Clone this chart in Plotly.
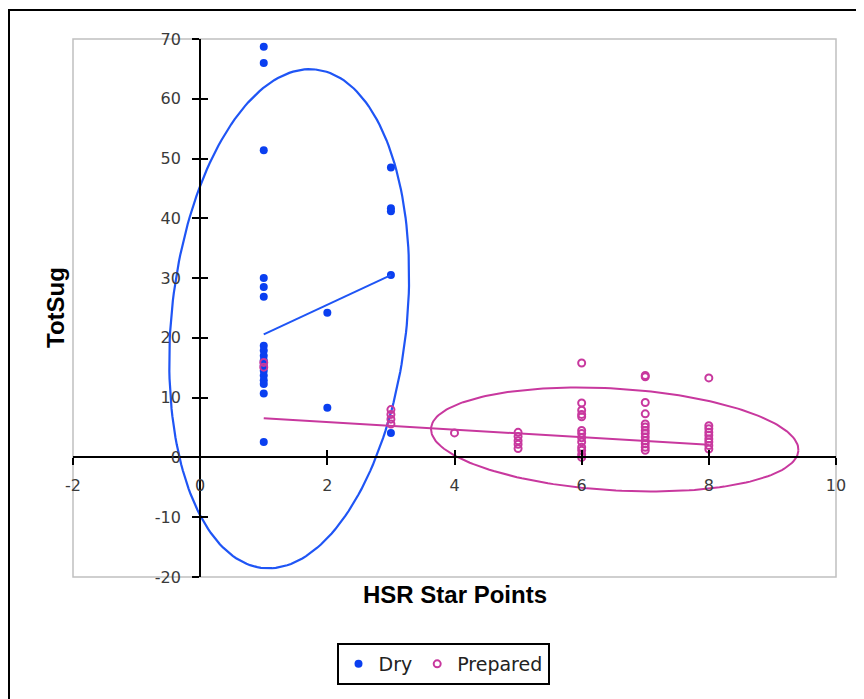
import numpy as np
import plotly.graph_objects as go

# ---------------- data ----------------
dry_x = [1] * 17 + [2] * 2 + [3] * 5
dry_y = [68.7, 66.0, 51.4, 30.0, 28.5, 26.9, 18.7, 17.9, 17.0, 16.2, 15.4, 14.5,
         13.7, 12.9, 12.3, 10.7, 2.6,
         24.2, 8.3,
         48.5, 41.7, 41.2, 30.5, 4.1]

prep_x = [1] * 2 + [3] * 4 + [4] * 1 + [5] * 5 + [6] * 13 + [7] * 13 + [8] * 9
prep_y = [15.9, 15.1,
          8.0, 7.2, 6.4, 5.6,
          4.1,
          4.2, 3.5, 2.8, 2.2, 1.5,
          15.8, 9.1, 7.9, 7.2, 6.8, 4.5, 4.0, 3.3, 2.6, 1.7, 1.2, 0.5, 0.0,
          13.7, 13.5, 9.2, 7.3, 5.6, 5.1, 4.5, 4.0, 3.4, 2.8, 2.3, 1.7, 1.2,
          13.3, 5.3, 4.8, 4.2, 3.7, 3.1, 2.6, 2.0, 1.4]

# linear trendlines (slope, intercept) and their x-extent
dry_trend = (4.95, 15.65)
dry_trend_x = [1, 3]
prep_trend = (-0.637, 7.2)
prep_trend_x = [1, 8]

# hand-drawn ellipses: centre, major-axis vector, minor-axis vector (data units)
blue_ell_center = (1.40, 23.2)
blue_ell_major = (0.415, 41.7)
blue_ell_minor = (1.84, -2.04)
pink_ell_center = (6.52, 3.0)
pink_ell_major = (2.889, -1.87)
pink_ell_minor = (0.049, 8.50)

x_ticks = [-2, 0, 2, 4, 6, 8, 10]
x_tick_labels = ["-2", "0", "2", "4", "6", "8", "10"]
y_ticks = [-20, -10, 0, 10, 20, 30, 40, 50, 60, 70]
y_tick_labels = ["-20", "-10", "0", "10", "20", "30", "40", "50", "60", "70"]
x_range = [-2, 10]
y_range = [-20, 70]

BLUE = "#0a3ff0"
BLUE_LINE = "#1f55f5"
PINK = "#c8389e"


def ellipse(center, major, minor, n=200):
    t = np.linspace(0, 2 * np.pi, n)
    ex = center[0] + np.cos(t) * major[0] + np.sin(t) * minor[0]
    ey = center[1] + np.cos(t) * major[1] + np.sin(t) * minor[1]
    return ex, ey


fig = go.Figure()

bx, by = ellipse(blue_ell_center, blue_ell_major, blue_ell_minor)
fig.add_trace(go.Scatter(x=bx, y=by, mode="lines", line=dict(color=BLUE_LINE, width=2.2),
                         showlegend=False, hoverinfo="skip"))
px_, py_ = ellipse(pink_ell_center, pink_ell_major, pink_ell_minor)
fig.add_trace(go.Scatter(x=px_, y=py_, mode="lines", line=dict(color=PINK, width=2),
                         showlegend=False, hoverinfo="skip"))

fig.add_trace(go.Scatter(x=dry_x, y=dry_y, mode="markers", name="Dry",
                         marker=dict(color=BLUE, size=8, symbol="circle")))
fig.add_trace(go.Scatter(x=prep_x, y=prep_y, mode="markers", name="Prepared",
                         marker=dict(color=PINK, size=7, symbol="circle-open",
                                     line=dict(width=2, color=PINK))))

dtx = np.array(dry_trend_x, dtype=float)
fig.add_trace(go.Scatter(x=dtx, y=dry_trend[0] * dtx + dry_trend[1], mode="lines",
                         line=dict(color=BLUE_LINE, width=2), showlegend=False,
                         hoverinfo="skip"))
ptx = np.array(prep_trend_x, dtype=float)
fig.add_trace(go.Scatter(x=ptx, y=prep_trend[0] * ptx + prep_trend[1], mode="lines",
                         line=dict(color=PINK, width=2), showlegend=False,
                         hoverinfo="skip"))

# dummy trace for overlay axes (inside ticks -> crossing tick marks)
fig.add_trace(go.Scatter(x=[None], y=[None], xaxis="x2", yaxis="y2",
                         showlegend=False, hoverinfo="skip"))

xpos = (0 - y_range[0]) / (y_range[1] - y_range[0])
ypos = (0 - x_range[0]) / (x_range[1] - x_range[0])
tickfont = dict(family="DejaVu Sans", size=16, color="#3a3a3a")

# plot area: page pixels x 73..836, y 39..577 (page has an 8px body offset)
W, H = 856, 691
L, R, T, B = 65, 28, 31, 122
pw = W - L - R
ph = H - T - B

fig.update_layout(
    width=W, height=H,
    margin=dict(l=L, r=R, t=T, b=B),
    paper_bgcolor="white", plot_bgcolor="white",
    showlegend=True,
    legend=dict(orientation="h", x=(443 - 73) / pw, xanchor="center",
                y=(577 - 643) / ph, yanchor="top",
                bordercolor="black", borderwidth=2,
                font=dict(family="DejaVu Sans", size=19, color="#222")),
    xaxis=dict(range=x_range, domain=[0, 1], anchor="free", position=xpos,
               showgrid=False, zeroline=False, showline=True, linecolor="black",
               linewidth=2, ticks="outside", ticklen=7, tickwidth=2, tickcolor="black",
               tickvals=x_ticks, ticktext=x_tick_labels, tickfont=tickfont,
               ticklabelstandoff=6),
    yaxis=dict(range=y_range, domain=[0, 1], anchor="free", position=ypos,
               showgrid=False, zeroline=False, showline=True, linecolor="black",
               linewidth=2, ticks="outside", ticklen=7, tickwidth=2, tickcolor="black",
               tickvals=y_ticks, ticktext=y_tick_labels, tickfont=tickfont,
               ticklabelstandoff=8),
    xaxis2=dict(range=x_range, overlaying="x", anchor="free", position=xpos,
                showgrid=False, zeroline=False, showline=False, ticks="inside",
                ticklen=7, tickwidth=2, tickcolor="black", tickvals=x_ticks,
                showticklabels=False),
    yaxis2=dict(range=y_range, overlaying="y", anchor="free", position=ypos,
                showgrid=False, zeroline=False, showline=False, ticks="inside",
                ticklen=7, tickwidth=2, tickcolor="black", tickvals=y_ticks,
                showticklabels=False),
    shapes=[
        dict(type="rect", xref="paper", yref="paper", x0=0, x1=1, y0=0, y1=1,
             line=dict(color="#c0c0c0", width=1.5), layer="below"),
        dict(type="rect", xref="paper", yref="paper",
             x0=(9 - 73) / pw, x1=1.2, y0=-0.4, y1=(577 - 10) / ph,
             line=dict(color="black", width=2)),
    ],
    annotations=[
        dict(text="<b>TotSug</b>", xref="paper", yref="paper", x=(55 - 73) / pw,
             y=(577 - 308) / ph, textangle=-90, showarrow=False,
             xanchor="center", yanchor="middle",
             font=dict(family="Liberation Sans", size=24, color="black")),
        dict(text="<b>HSR Star Points</b>", xref="paper", yref="paper",
             x=(455 - 73) / pw, y=(577 - 594) / ph, showarrow=False,
             xanchor="center", yanchor="middle",
             font=dict(family="Liberation Sans", size=24, color="black")),
    ],
)

fig.write_html("out.html")
